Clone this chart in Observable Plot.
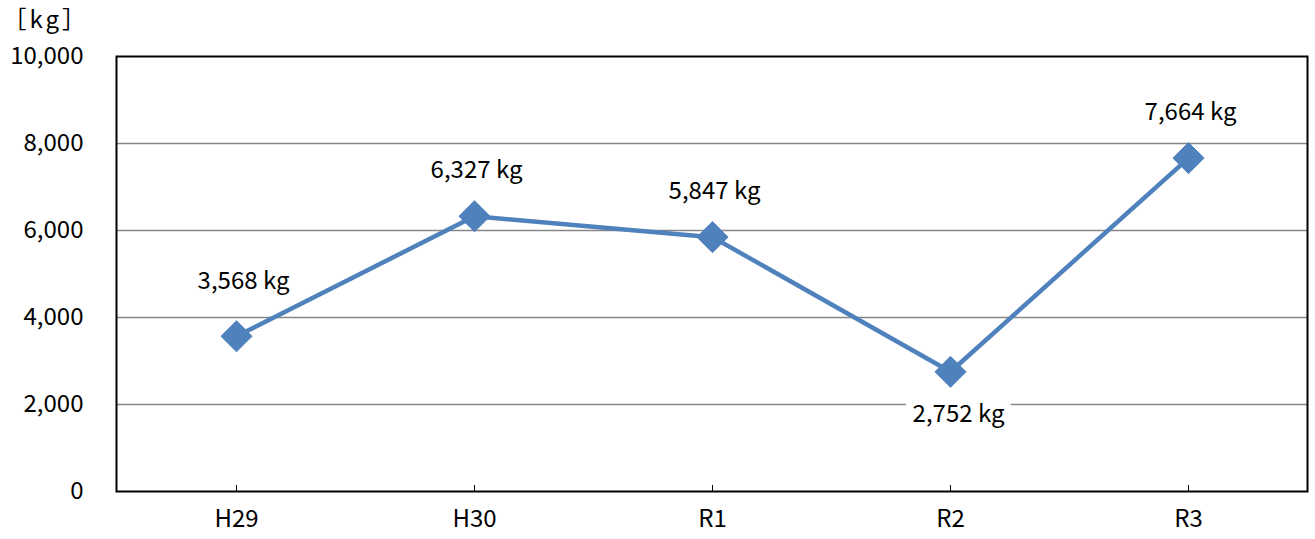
<!DOCTYPE html>
<html><head><meta charset="utf-8">
<script src="https://cdn.jsdelivr.net/npm/d3@7"></script>
<script src="https://cdn.jsdelivr.net/npm/@observablehq/plot@0.6"></script>
<style>body{margin:0;background:#fff;} svg{display:block;} .unit text{letter-spacing:3px;}</style>
</head><body><div id="chart"></div>
<script>
const years = ["H29", "H30", "R1", "R2", "R3"];
const amounts = [3568, 6327, 5847, 2752, 7664];
const yTicks = [0, 2000, 4000, 6000, 8000, 10000];
const unitLabel = "［kg］";

const data = years.map((y, i) => ({year: y, value: amounts[i]}));
const W = 1315, H = 539, mL = 116, mR = 8, mT = 56, mB = 48;
const font = "'Noto Sans CJK JP', 'Noto Sans', sans-serif";
const fmt = d3.format(",.0f");
const lab = d => fmt(d.value) + " kg";
const FS = 24;
const halo = {fill: "#000", stroke: "#fff", strokeWidth: 14, strokeLinejoin: "round", paintOrder: "stroke", fontSize: FS};

const chart = Plot.plot({
  width: W, height: H,
  marginLeft: mL, marginRight: mR, marginTop: mT, marginBottom: mB,
  style: {fontFamily: font, fontSize: FS + "px", color: "#000", background: "#fff"},
  x: {type: "point", domain: years, padding: 0.5, label: null},
  y: {domain: [0, 10000], label: null},
  marks: [
    Plot.ruleY(yTicks.filter(t => t > 0 && t < 10000), {stroke: "#868686", strokeWidth: 1.6}),
    Plot.frame({stroke: "#000", strokeWidth: 2}),
    Plot.axisY({ticks: yTicks, tickFormat: fmt, tickSize: 0, tickPadding: 33, fontSize: FS}),
    Plot.axisX({tickSize: 0, tickPadding: 18, fontSize: FS}),
    Plot.tickX(years, {x: d => d, insetTop: H - mT - mB - 6, stroke: "#000", strokeWidth: 1}),
    Plot.line(data, {x: "year", y: "value", stroke: "#4F81BD", strokeWidth: 4.5}),
    Plot.dot(data, {x: "year", y: "value", symbol: "diamond2", r: 14, fill: "#4F81BD", stroke: "#4F81BD", strokeWidth: 1}),
    Plot.text(data.filter(d => d.year === "H29"), {x: "year", y: "value", text: lab, dy: -55, dx: 7, ...halo}),
    Plot.text(data.filter(d => d.year !== "H29" && d.year !== "R2"), {x: "year", y: "value", text: lab, dy: -46, dx: 2, ...halo}),
    Plot.text(data.filter(d => d.year === "R2"), {x: "year", y: "value", text: lab, dy: 43, dx: 8, ...halo, strokeWidth: 16}),
    Plot.text([unitLabel], {frameAnchor: "top-left", dx: -114, dy: -36, text: d => d, textAnchor: "start", lineAnchor: "middle", fontSize: FS, fill: "#000", className: "unit"})
  ]
});
document.getElementById("chart").append(chart);
</script></body></html>
